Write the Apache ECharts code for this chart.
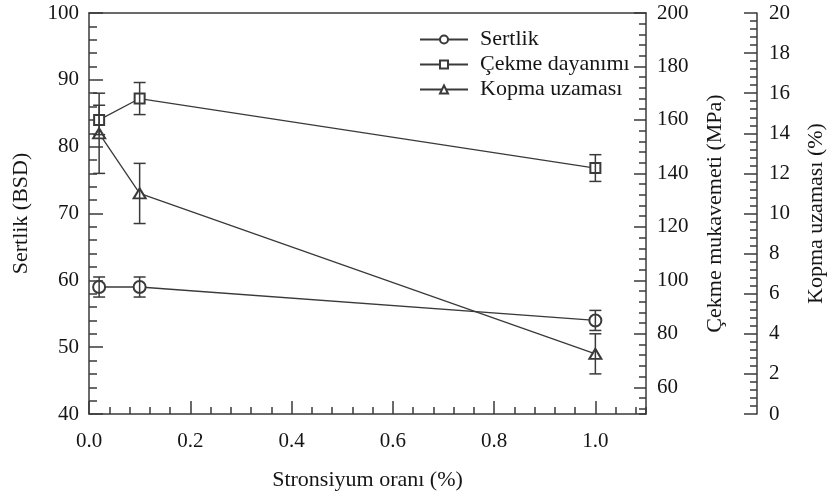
<!DOCTYPE html>
<html>
<head>
<meta charset="utf-8">
<script src="https://cdn.jsdelivr.net/npm/echarts@6/dist/echarts.min.js"></script>
<style>
    html, body { margin: 0; padding: 0; background: #fff; }
    #chart { width: 829px; height: 494px; }
</style>
</head>
<body>
<div id="chart"></div>
<script>
// 数据
var strontium = [0.02, 0.1, 1.0];
var sertlik = [59, 59, 54];
var sertlikErr = [1.5, 1.5, 1.5];
var cekme = [160, 168, 142];
var cekmeErr = [5.5, 6, 5];
var kopma = [14, 11, 3];
var kopmaErr = [2, 1.5, 1];
var seriesNames = ['Sertlik', 'Çekme dayanımı', 'Kopma uzaması'];

var font = 'Liberation Serif';
var ink = '#3a3a3a';
var textColor = '#151515';

function pairs(ys) {
    var out = [];
    for (var i = 0; i < strontium.length; i++) {
        out.push([strontium[i], ys[i]]);
    }
    return out;
}

function triples(ys, es) {
    var out = [];
    for (var i = 0; i < strontium.length; i++) {
        out.push([strontium[i], ys[i], es[i]]);
    }
    return out;
}

// 误差线
function renderErr(params, api) {
    var x = api.value(0);
    var y = api.value(1);
    var e = api.value(2);
    var top = api.coord([x, y + e]);
    var bot = api.coord([x, y - e]);
    var w = 6;
    var style = { stroke: ink, lineWidth: 1.5 };
    return {
        type: 'group',
        children: [
            { type: 'line', shape: { x1: top[0], y1: top[1], x2: bot[0], y2: bot[1] }, style: style },
            { type: 'line', shape: { x1: top[0] - w, y1: top[1], x2: top[0] + w, y2: top[1] }, style: style },
            { type: 'line', shape: { x1: bot[0] - w, y1: bot[1], x2: bot[0] + w, y2: bot[1] }, style: style }
        ]
    };
}

var labelStyle = { fontFamily: font, fontSize: 22, color: textColor };
var axisLine = { show: true, onZero: false, lineStyle: { color: ink, width: 1.5 } };
var noLine = { show: false, onZero: false };

var myChart = echarts.init(document.getElementById('chart'));

var option = {
    animation: false,
    backgroundColor: '#fff',
    textStyle: { fontFamily: font },
    grid: { left: 89, right: 183, top: 13, bottom: 80, outerBoundsMode: 'none', containLabel: false },
    legend: {
        data: seriesNames,
        orient: 'vertical',
        left: 414,
        top: 22,
        itemWidth: 48,
        itemHeight: 10,
        itemGap: 0,
        textStyle: { fontFamily: font, fontSize: 22, color: textColor, lineHeight: 25, padding: [0, 0, 0, 7] }
    },
    xAxis: [{
        type: 'value',
        position: 'bottom',
        min: 0,
        max: 1.1,
        interval: 0.2,
        name: 'Stronsiyum oranı (%)',
        nameLocation: 'middle',
        nameGap: 55,
        nameTextStyle: labelStyle,
        axisLine: axisLine,
        axisTick: { inside: true, length: 13, lineStyle: { color: ink, width: 1.5 } },
        axisLabel: {
            fontFamily: font, fontSize: 21, color: textColor, margin: 17, showMaxLabel: false,
            formatter: function(v) { return v.toFixed(1); }
        },
        splitLine: { show: false }
    }, {
        // 次刻度
        type: 'value',
        position: 'bottom',
        min: 0,
        max: 1.1,
        interval: 0.04,
        axisLine: noLine,
        axisTick: { inside: true, length: 7, lineStyle: { color: ink, width: 1.5 } },
        axisLabel: { show: false },
        splitLine: { show: false }
    }, {
        // 上边框
        type: 'value',
        position: 'top',
        min: 0,
        max: 1.1,
        axisLine: axisLine,
        axisTick: { show: false },
        axisLabel: { show: false },
        splitLine: { show: false }
    }],
    yAxis: [{
        type: 'value',
        position: 'left',
        min: 40,
        max: 100,
        interval: 10,
        name: 'Sertlik (BSD)',
        nameLocation: 'middle',
        nameGap: 57,
        nameTextStyle: labelStyle,
        axisLine: axisLine,
        axisTick: { inside: true, length: 14, lineStyle: { color: ink, width: 1.5 } },
        minorTick: { show: true, splitNumber: 5, length: 8, lineStyle: { color: ink, width: 1.5 } },
        axisLabel: { fontFamily: font, fontSize: 21, color: textColor, margin: 10 },
        splitLine: { show: false }
    }, {
        type: 'value',
        position: 'right',
        offset: 0,
        min: 50,
        max: 200,
        minInterval: 20,
        maxInterval: 20,
        name: 'Çekme mukavemeti (MPa)',
        nameLocation: 'middle',
        nameGap: 58,
        nameTextStyle: labelStyle,
        axisLine: axisLine,
        axisTick: { inside: true, length: 12, lineStyle: { color: ink, width: 1.5 } },
        axisLabel: { fontFamily: font, fontSize: 21, color: textColor, margin: 11, showMinLabel: false },
        splitLine: { show: false }
    }, {
        type: 'value',
        position: 'right',
        offset: 111,
        min: 0,
        max: 20,
        interval: 2,
        name: 'Kopma uzaması (%)',
        nameLocation: 'middle',
        nameGap: 48,
        nameTextStyle: labelStyle,
        axisLine: axisLine,
        axisTick: { inside: true, length: 13, lineStyle: { color: ink, width: 1.5 } },
        minorTick: { show: true, splitNumber: 5, length: 7, lineStyle: { color: ink, width: 1.5 } },
        axisLabel: { fontFamily: font, fontSize: 21, color: textColor, margin: 12 },
        splitLine: { show: false }
    }, {
        // 中间轴次刻度
        type: 'value',
        position: 'right',
        offset: 0,
        min: 50,
        max: 200,
        minInterval: 4,
        maxInterval: 4,
        axisLine: noLine,
        axisTick: { inside: true, length: 7, lineStyle: { color: ink, width: 1.5 } },
        axisLabel: { show: false },
        splitLine: { show: false }
    }],
    series: [{
        name: seriesNames[0],
        type: 'line',
        yAxisIndex: 0,
        data: pairs(sertlik),
        symbol: 'emptyCircle',
        symbolSize: 12,
        lineStyle: { color: ink, width: 1.3 },
        itemStyle: { color: ink, borderWidth: 1.3 },
        z: 2
    }, {
        name: seriesNames[1],
        type: 'line',
        yAxisIndex: 1,
        data: pairs(cekme),
        symbol: 'emptyRect',
        symbolSize: 10,
        lineStyle: { color: ink, width: 1.3 },
        itemStyle: { color: ink, borderWidth: 1.3 },
        z: 2
    }, {
        name: seriesNames[2],
        type: 'line',
        yAxisIndex: 2,
        data: pairs(kopma),
        symbol: 'emptyTriangle',
        symbolSize: [12, 10],
        lineStyle: { color: ink, width: 1.3 },
        itemStyle: { color: ink, borderWidth: 1.3 },
        z: 2
    }, {
        type: 'custom',
        yAxisIndex: 0,
        data: triples(sertlik, sertlikErr),
        renderItem: renderErr,
        z: 3
    }, {
        type: 'custom',
        yAxisIndex: 1,
        data: triples(cekme, cekmeErr),
        renderItem: renderErr,
        z: 3
    }, {
        type: 'custom',
        yAxisIndex: 2,
        data: triples(kopma, kopmaErr),
        renderItem: renderErr,
        z: 3
    }]
};

myChart.setOption(option);
</script>
</body>
</html>
